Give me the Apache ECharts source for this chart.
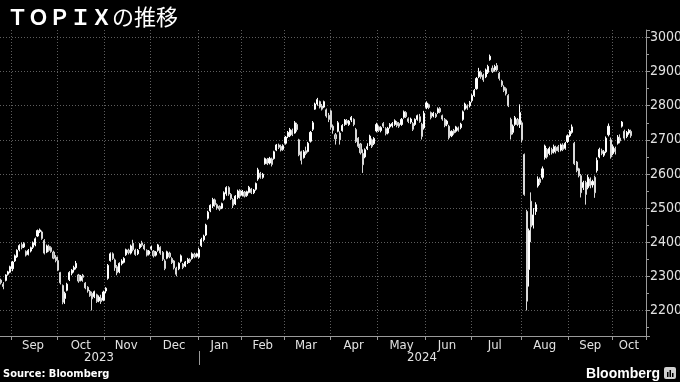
<!DOCTYPE html>
<html>
<head>
<meta charset="utf-8">
<script src="https://cdn.jsdelivr.net/npm/echarts@6/dist/echarts.min.js"></script>
<style>
html,body{margin:0;padding:0;background:#000;}
#chart{width:680px;height:382px;}
</style>
</head>
<body>
<div id="chart"></div>
<script>
// Trading days shown (TOPIX daily candles)
const dates = [
'2023-08-25','2023-08-28','2023-08-29','2023-08-30','2023-08-31',
'2023-09-01','2023-09-04','2023-09-05','2023-09-06','2023-09-07','2023-09-08','2023-09-11','2023-09-12','2023-09-13','2023-09-14','2023-09-15','2023-09-19','2023-09-20','2023-09-21','2023-09-22','2023-09-25','2023-09-26','2023-09-27','2023-09-28','2023-09-29',
'2023-10-02','2023-10-03','2023-10-04','2023-10-05','2023-10-06','2023-10-10','2023-10-11','2023-10-12','2023-10-13','2023-10-16','2023-10-17','2023-10-18','2023-10-19','2023-10-20','2023-10-23','2023-10-24','2023-10-25','2023-10-26','2023-10-27','2023-10-30','2023-10-31',
'2023-11-01','2023-11-02','2023-11-06','2023-11-07','2023-11-08','2023-11-09','2023-11-10','2023-11-13','2023-11-14','2023-11-15','2023-11-16','2023-11-17','2023-11-20','2023-11-21','2023-11-22','2023-11-24','2023-11-27','2023-11-28','2023-11-29','2023-11-30',
'2023-12-01','2023-12-04','2023-12-05','2023-12-06','2023-12-07','2023-12-08','2023-12-11','2023-12-12','2023-12-13','2023-12-14','2023-12-15','2023-12-18','2023-12-19','2023-12-20','2023-12-21','2023-12-22','2023-12-25','2023-12-26','2023-12-27','2023-12-28','2023-12-29',
'2024-01-04','2024-01-05','2024-01-09','2024-01-10','2024-01-11','2024-01-12','2024-01-15','2024-01-16','2024-01-17','2024-01-18','2024-01-19','2024-01-22','2024-01-23','2024-01-24','2024-01-25','2024-01-26','2024-01-29','2024-01-30','2024-01-31',
'2024-02-01','2024-02-02','2024-02-05','2024-02-06','2024-02-07','2024-02-08','2024-02-09','2024-02-13','2024-02-14','2024-02-15','2024-02-16','2024-02-19','2024-02-20','2024-02-21','2024-02-22','2024-02-26','2024-02-27','2024-02-28','2024-02-29',
'2024-03-01','2024-03-04','2024-03-05','2024-03-06','2024-03-07','2024-03-08','2024-03-11','2024-03-12','2024-03-13','2024-03-14','2024-03-15','2024-03-18','2024-03-19','2024-03-21','2024-03-22','2024-03-25','2024-03-26','2024-03-27','2024-03-28','2024-03-29',
'2024-04-01','2024-04-02','2024-04-03','2024-04-04','2024-04-05','2024-04-08','2024-04-09','2024-04-10','2024-04-11','2024-04-12','2024-04-15','2024-04-16','2024-04-17','2024-04-18','2024-04-19','2024-04-22','2024-04-23','2024-04-24','2024-04-25','2024-04-26','2024-04-30',
'2024-05-01','2024-05-02','2024-05-07','2024-05-08','2024-05-09','2024-05-10','2024-05-13','2024-05-14','2024-05-15','2024-05-16','2024-05-17','2024-05-20','2024-05-21','2024-05-22','2024-05-23','2024-05-24','2024-05-27','2024-05-28','2024-05-29','2024-05-30','2024-05-31',
'2024-06-03','2024-06-04','2024-06-05','2024-06-06','2024-06-07','2024-06-10','2024-06-11','2024-06-12','2024-06-13','2024-06-14','2024-06-17','2024-06-18','2024-06-19','2024-06-20','2024-06-21','2024-06-24','2024-06-25','2024-06-26','2024-06-27','2024-06-28',
'2024-07-01','2024-07-02','2024-07-03','2024-07-04','2024-07-05','2024-07-08','2024-07-09','2024-07-10','2024-07-11','2024-07-12','2024-07-16','2024-07-17','2024-07-18','2024-07-19','2024-07-22','2024-07-23','2024-07-24','2024-07-25','2024-07-26','2024-07-29','2024-07-30','2024-07-31',
'2024-08-01','2024-08-02','2024-08-05','2024-08-06','2024-08-07','2024-08-08','2024-08-09','2024-08-13','2024-08-14','2024-08-15','2024-08-16','2024-08-19','2024-08-20','2024-08-21','2024-08-22','2024-08-23','2024-08-26','2024-08-27','2024-08-28','2024-08-29','2024-08-30',
'2024-09-02','2024-09-03','2024-09-04','2024-09-05','2024-09-06','2024-09-09','2024-09-10','2024-09-11','2024-09-12','2024-09-13','2024-09-17','2024-09-18','2024-09-19','2024-09-20','2024-09-24','2024-09-25','2024-09-26','2024-09-27','2024-09-30',
'2024-10-01','2024-10-02','2024-10-03','2024-10-04','2024-10-07','2024-10-08','2024-10-09','2024-10-10','2024-10-11'
];
// Empty trading days kept on the axis to the right of the last candle
const axisPadDates = ['2024-10-15','2024-10-16','2024-10-17','2024-10-18','2024-10-21','2024-10-22'];

const opens = [
2289,2277,2288,2306,2312,
2322,2345,2357,2378,2393,2386,2373,2364,2374,2385,2392,2418,2431,2430,2405,2371,2388,2384,2371,2356,
2346,2311,2273,2235,2259,2290,2309,2319,2325,2304,2288,2303,2280,2268,2256,2250,2240,2246,2228,2236,2230,
2257,2294,2346,2366,2348,2328,2313,2337,2341,2363,2377,2368,2397,2377,2366,2384,2398,2391,2376,2365,
2381,2374,2362,2376,2385,2370,2345,2353,2368,2352,2345,2324,2322,2344,2336,2330,2340,2349,2352,2365,2359,
2356,2390,2407,2421,2470,2492,2506,2524,2510,2505,2500,2526,2542,2560,2540,2525,2512,2531,2552,
2538,2547,2537,2546,2556,2545,2555,2585,2602,2590,2630,2643,2632,2644,2645,2670,2685,2681,2672,
2690,2710,2712,2728,2720,2745,2700,2665,2648,2668,2666,2696,2731,2790,2805,2812,2799,2796,2788,2772,
2785,2740,2715,2725,2720,2727,2745,2756,2745,2758,2760,2730,2705,2688,2660,2650,2674,2686,2700,2689,2726,
2738,2727,2748,2733,2720,2738,2741,2745,2751,2748,2745,2766,2780,2762,2752,2748,2745,2760,2768,2746,2735,
2795,2803,2780,2770,2775,2780,2792,2771,2760,2746,2740,2712,2728,2725,2735,2736,2760,2790,2800,2800,
2815,2830,2850,2885,2898,2890,2885,2898,2935,2910,2905,2918,2895,2872,2855,2850,2830,2760,2722,2745,2760,2745,
2750,2657,2490,2320,2520,2450,2490,2565,2585,2590,2648,2672,2660,2672,2665,2678,2680,2670,2685,2675,2695,
2712,2722,2690,2635,2615,2595,2560,2575,2560,2585,2568,2590,2610,2650,2668,2655,2665,2715,2700,
2660,2675,2690,2705,2740,2725,2710,2720,2725
];
const closes = [
2281,2270,2304,2313,2328,
2342,2360,2376,2390,2384,2396,2362,2376,2384,2398,2410,2434,2436,2411,2368,2389,2376,2373,2353,2346,
2318,2281,2224,2250,2277,2311,2318,2326,2338,2286,2300,2297,2266,2257,2243,2234,2255,2226,2239,2226,2254,
2265,2332,2366,2352,2325,2310,2338,2345,2352,2378,2369,2389,2378,2364,2376,2394,2391,2380,2362,2374,
2386,2360,2371,2392,2368,2350,2323,2372,2357,2340,2325,2306,2338,2360,2326,2342,2350,2344,2366,2357,2366,
2378,2408,2418,2450,2488,2508,2525,2510,2500,2497,2513,2545,2560,2541,2528,2508,2535,2550,2535,
2550,2535,2548,2561,2545,2553,2572,2612,2590,2599,2645,2630,2645,2628,2665,2685,2678,2670,2683,
2708,2722,2730,2715,2750,2730,2656,2640,2665,2660,2690,2722,2750,2805,2818,2796,2790,2812,2770,2760,
2737,2728,2703,2750,2700,2742,2758,2749,2755,2766,2745,2695,2681,2662,2627,2671,2680,2711,2681,2704,2745,
2728,2736,2740,2718,2734,2745,2748,2756,2742,2740,2760,2782,2768,2754,2761,2731,2760,2771,2754,2710,2778,
2808,2795,2765,2778,2768,2791,2782,2761,2742,2755,2706,2725,2720,2738,2728,2746,2782,2805,2793,2810,
2830,2845,2880,2900,2885,2876,2905,2915,2945,2900,2915,2905,2880,2860,2845,2835,2800,2715,2740,2765,2745,2780,
2700,2540,2227,2434,2445,2480,2510,2585,2575,2615,2682,2650,2675,2662,2680,2668,2668,2685,2672,2690,2712,
2725,2738,2630,2610,2595,2545,2575,2540,2590,2565,2578,2545,2640,2672,2660,2665,2705,2740,2650,
2680,2665,2708,2697,2752,2705,2722,2728,2712
];
const lows = [
2276,2262,2285,2302,2309,
2315,2342,2354,2373,2379,2383,2358,2361,2370,2380,2388,2415,2427,2407,2364,2368,2372,2369,2350,2341,
2315,2276,2218,2219,2256,2286,2303,2311,2320,2281,2285,2284,2262,2252,2240,2200,2236,2222,2224,2219,2227,
2250,2290,2343,2348,2316,2303,2309,2332,2338,2360,2364,2364,2373,2360,2362,2380,2386,2376,2358,2361,
2376,2355,2358,2372,2363,2345,2318,2350,2353,2336,2320,2300,2318,2340,2321,2327,2336,2339,2349,2353,2355,
2352,2386,2402,2418,2466,2488,2500,2504,2495,2492,2497,2522,2536,2536,2524,2500,2509,2526,2528,
2534,2531,2533,2543,2541,2541,2551,2580,2586,2586,2627,2626,2628,2622,2642,2667,2673,2666,2668,
2686,2705,2708,2711,2718,2724,2652,2628,2645,2655,2663,2692,2726,2788,2800,2792,2786,2793,2765,2752,
2730,2718,2686,2722,2686,2724,2741,2744,2741,2752,2740,2691,2676,2657,2603,2646,2670,2682,2676,2685,2722,
2723,2722,2735,2713,2716,2733,2736,2741,2737,2735,2741,2762,2764,2749,2747,2726,2741,2756,2750,2701,2730,
2790,2790,2760,2766,2764,2776,2778,2756,2737,2740,2701,2708,2715,2721,2724,2731,2756,2786,2788,2795,
2810,2826,2847,2881,2879,2870,2881,2893,2932,2896,2900,2900,2874,2855,2840,2830,2796,2701,2716,2741,2740,2735,
2692,2536,2200,2270,2400,2440,2480,2560,2568,2584,2642,2645,2655,2657,2660,2660,2664,2666,2667,2671,2691,
2708,2718,2626,2605,2590,2531,2553,2510,2555,2558,2560,2530,2604,2646,2655,2650,2661,2710,2645,
2655,2657,2686,2690,2736,2700,2705,2715,2706
];
const highs = [
2293,2283,2306,2316,2331,
2345,2364,2379,2394,2399,2400,2376,2380,2387,2402,2414,2437,2440,2434,2409,2393,2393,2388,2375,2362,
2358,2313,2276,2255,2281,2315,2321,2331,2345,2307,2304,2307,2283,2271,2260,2255,2258,2249,2244,2246,2258,
2268,2336,2370,2370,2352,2333,2341,2350,2356,2381,2381,2393,2407,2381,2380,2397,2404,2395,2379,2377,
2390,2377,2374,2395,2388,2374,2350,2375,2372,2356,2348,2328,2341,2364,2339,2345,2354,2353,2370,2369,2369,
2384,2413,2422,2454,2492,2511,2530,2528,2514,2508,2516,2549,2564,2564,2544,2529,2538,2554,2555,
2553,2550,2551,2565,2559,2556,2575,2618,2606,2603,2648,2647,2650,2648,2668,2688,2689,2686,2687,
2711,2726,2735,2733,2755,2750,2703,2668,2670,2680,2694,2726,2755,2809,2823,2815,2805,2815,2792,2779,
2789,2745,2720,2755,2725,2746,2761,2761,2758,2770,2763,2735,2708,2691,2672,2675,2690,2715,2704,2708,2750,
2742,2740,2752,2737,2738,2749,2752,2760,2755,2752,2764,2786,2784,2766,2765,2752,2763,2774,2776,2750,2785,
2813,2806,2783,2782,2779,2795,2796,2774,2764,2759,2744,2728,2732,2741,2739,2750,2786,2809,2804,2814,
2834,2849,2884,2911,2903,2894,2909,2920,2950,2918,2920,2925,2899,2876,2860,2854,2834,2765,2745,2770,2764,2804,
2755,2660,2495,2440,2546,2500,2517,2593,2590,2622,2686,2676,2680,2677,2686,2683,2685,2689,2690,2694,2716,
2729,2745,2694,2638,2618,2600,2580,2580,2598,2590,2583,2595,2648,2677,2674,2670,2710,2748,2707,
2686,2680,2714,2716,2755,2730,2726,2732,2730
];
const monthNames = ['Jan','Feb','Mar','Apr','May','Jun','Jul','Aug','Sep','Oct','Nov','Dec'];
const yMin = 2125, yMax = 3022, yStep = 100;

// ---- derived structures ----
const axisDates = dates.concat(axisPadDates);
const candleData = dates.map((d, i) => [opens[i], closes[i], lows[i], highs[i]]);

function groupBy(keyLen) {
  const groups = [];
  axisDates.forEach((d, i) => {
    const k = d.slice(0, keyLen);
    if (!groups.length || groups[groups.length - 1].key !== k) groups.push({key: k, first: i, last: i});
    else groups[groups.length - 1].last = i;
  });
  return groups;
}
const months = groupBy(7), years = groupBy(4);
const monthStart = {}, monthMid = {}, yearStart = {}, yearMid = {};
months.forEach(g => { if (g.first > 0) { monthStart[g.first] = true; monthMid[Math.floor((g.first + g.last) / 2)] = true; } });
years.forEach(g => { if (g.first > 0) yearStart[g.first] = true; yearMid[Math.floor((g.first + g.last) / 2)] = true; });

const labelFont = "'Liberation Sans Narrow','DejaVu Sans Condensed','Liberation Sans',sans-serif";
const labelColor = '#e2e2e2';
const axisColor = '#9a9a9a';
const gridColor = '#5e5e5e';

const chart = echarts.init(document.getElementById('chart'), null, {renderer: 'canvas'});
chart.setOption({
  backgroundColor: '#000000',
  animation: false,
  title: {
    text: '{a|ＴＯＰＩＸ}{b|の推移}',
    left: 2, top: 1,
    textStyle: {
      rich: {
        a: {fontFamily: "'Noto Sans CJK JP'", fontWeight: 'bold', fontSize: 21, color: '#ffffff'},
        b: {fontFamily: "'Noto Sans CJK JP'", fontWeight: 'normal', fontSize: 22, color: '#ffffff'}
      }
    }
  },
  grid: {left: 0, right: 34, top: 30, bottom: 46, containLabel: false, outerBoundsMode: 'none'},
  xAxis: [{
    type: 'category',
    data: axisDates,
    boundaryGap: true,
    position: 'bottom',
    axisLine: {show: true, lineStyle: {color: axisColor, width: 1}},
    axisTick: {show: true, interval: (i) => !!monthStart[i], alignWithLabel: false, length: 4, lineStyle: {color: axisColor}},
    axisLabel: {
      interval: (i) => !!monthMid[i],
      formatter: (v) => monthNames[parseInt(v.slice(5, 7), 10) - 1],
      color: labelColor, fontSize: 13, fontFamily: labelFont, margin: 3
    },
    splitLine: {show: true, interval: (i) => !!monthStart[i], lineStyle: {color: gridColor, type: [1, 2], width: 1}}
  }, {
    type: 'category',
    data: axisDates,
    boundaryGap: true,
    position: 'bottom',
    offset: 15,
    axisLine: {show: false},
    axisTick: {show: true, interval: (i) => !!yearStart[i], alignWithLabel: true, length: 14, lineStyle: {color: axisColor}},
    axisLabel: {
      interval: (i) => !!yearMid[i],
      formatter: (v) => v.slice(0, 4),
      color: labelColor, fontSize: 13, fontFamily: labelFont, margin: 0
    },
    splitLine: {show: false}
  }],
  yAxis: {
    type: 'value',
    position: 'right',
    min: yMin, max: yMax,
    minInterval: yStep, maxInterval: yStep, splitNumber: 9,
    axisLine: {show: true, lineStyle: {color: axisColor, width: 1}},
    axisTick: {show: true, length: 4, lineStyle: {color: axisColor}},
    minorTick: {show: true, splitNumber: 2, length: 3, lineStyle: {color: axisColor}},
    axisLabel: {
      showMinLabel: false, showMaxLabel: false,
      formatter: (v) => String(Math.round(v)),
      color: labelColor, fontSize: 14, fontFamily: labelFont, margin: 4
    },
    splitLine: {show: true, showMinLine: false, showMaxLine: false, lineStyle: {color: gridColor, type: [1, 2], width: 1}}
  },
  series: [{
    type: 'candlestick',
    data: candleData,
    barWidth: 1.6,
    itemStyle: {
      color: '#ffffff', color0: '#a8a8a8',
      borderColor: '#ffffff', borderColor0: '#d8d8d8', borderWidth: 1
    }
  }],
  graphic: [{
    type: 'text', left: 3, bottom: 2,
    style: {text: 'Source: Bloomberg', fill: '#ffffff', font: "bold 11px " + labelFont}
  }, {
    type: 'text', right: 20, bottom: 1,
    style: {text: 'Bloomberg', fill: '#ffffff', font: "bold 14px 'Liberation Sans Narrow','Liberation Sans',sans-serif"}
  }, {
    type: 'group', right: 4, bottom: 3,
    children: [
      {type: 'rect', shape: {x: 0, y: 0, width: 12, height: 12, r: 2}, style: {fill: '#d0d0d0'}},
      {type: 'rect', shape: {x: 3, y: 5, width: 1.5, height: 5}, style: {fill: '#000'}},
      {type: 'rect', shape: {x: 5.5, y: 3, width: 1.5, height: 7}, style: {fill: '#000'}},
      {type: 'rect', shape: {x: 8, y: 6, width: 1.5, height: 4}, style: {fill: '#000'}}
    ]
  }]
});
</script>
</body>
</html>
